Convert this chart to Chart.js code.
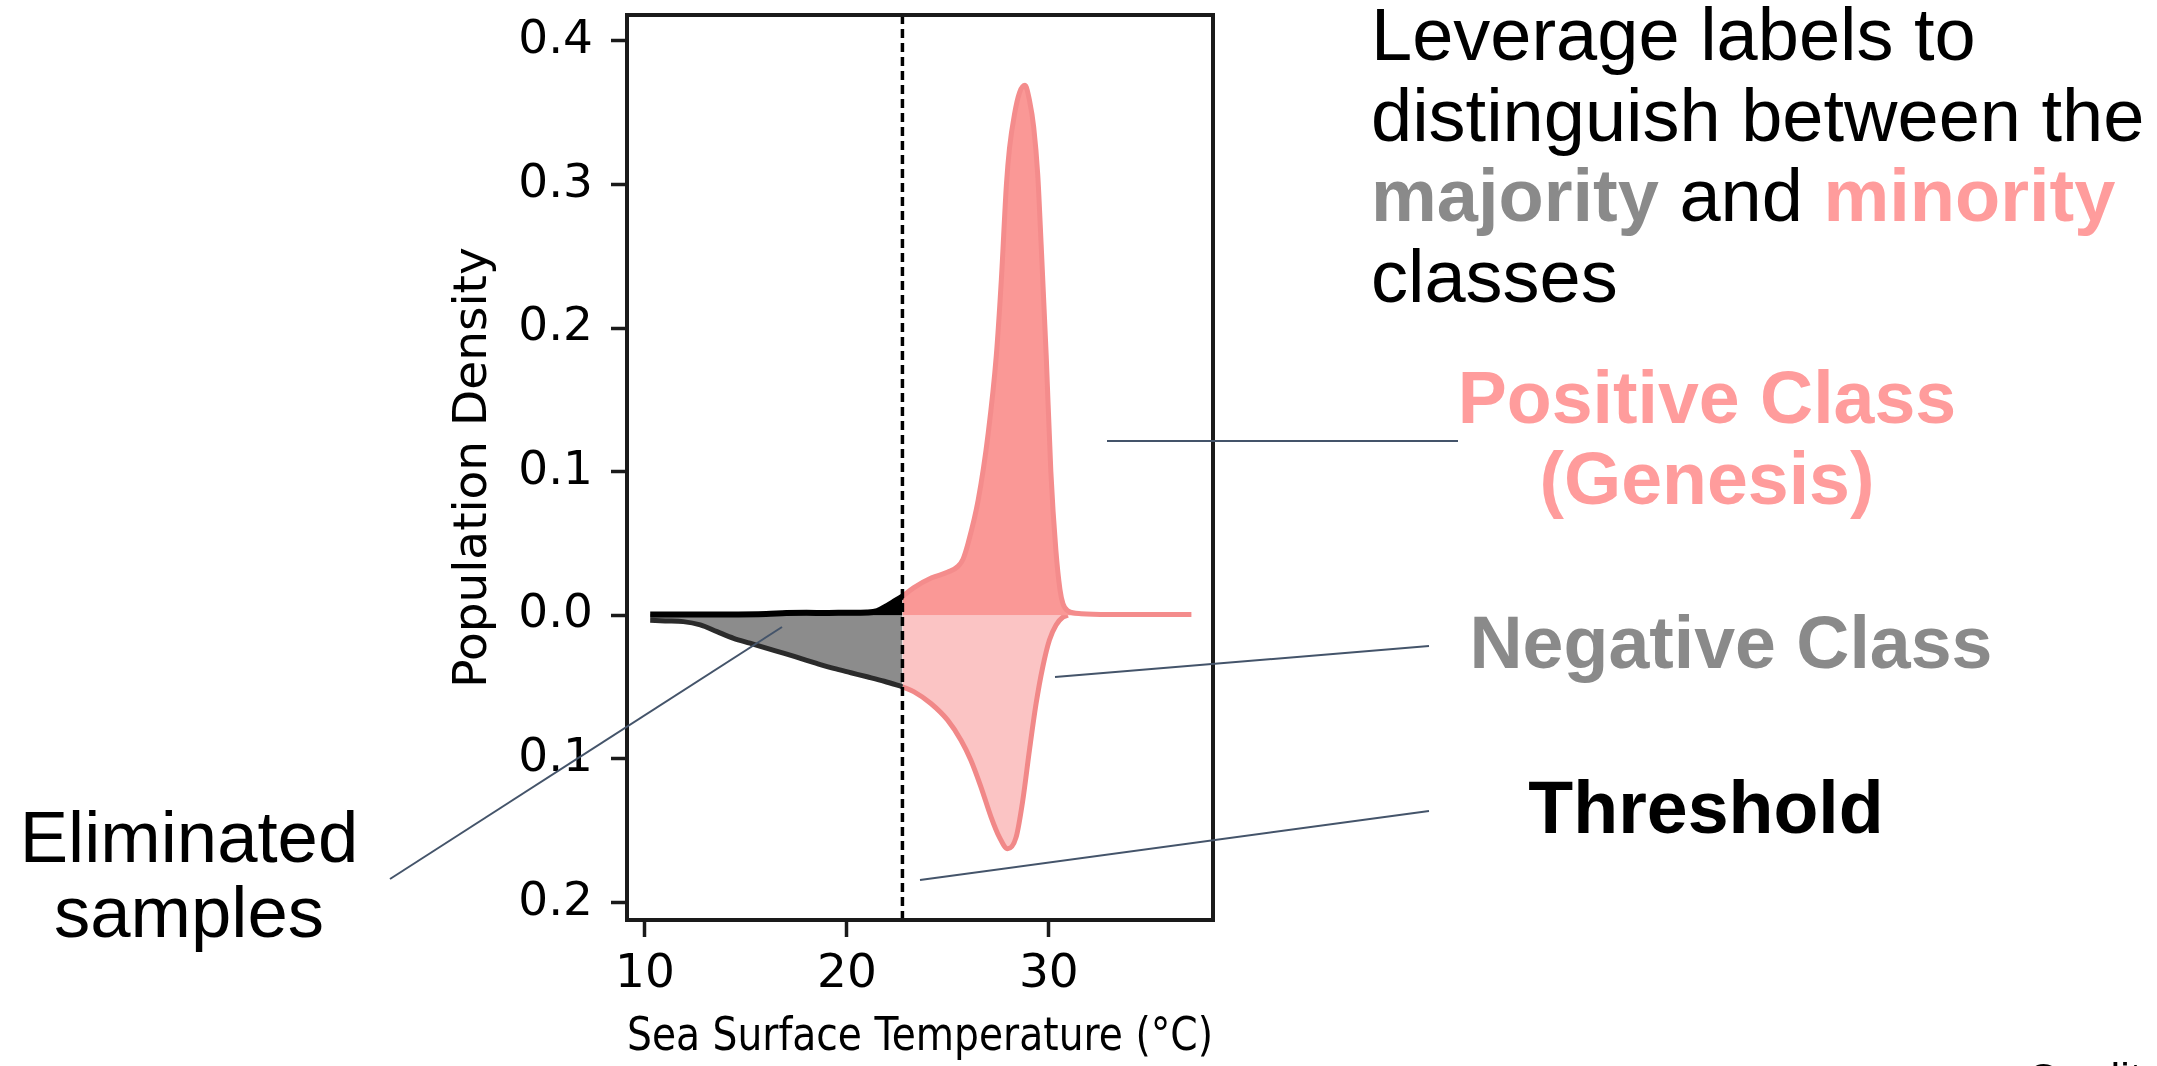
<!DOCTYPE html>
<html>
<head>
<meta charset="utf-8">
<title>Population density vs SST</title>
<script src="https://cdn.jsdelivr.net/npm/chart.js@4.4.1/dist/chart.umd.min.js"></script>
<style>
    html, body { margin: 0; padding: 0; background: #fff; overflow: hidden; }
    #wrap { position: absolute; left: 0; top: 0; width: 2157px; height: 1066px; }
    #leaders { position: absolute; left: 0; top: 0; pointer-events: none; }
    .note { position: absolute; font-family: "Liberation Sans", Arial, sans-serif; white-space: nowrap; color: #000; }
    .center { text-align: center; }
</style>
</head>
<body>
<div id="wrap"><canvas id="densityChart"></canvas></div>

<svg id="leaders" width="2157" height="1066">
    <g stroke="#44546a" stroke-width="2">
        <line x1="1107" y1="441" x2="1458" y2="441"/>
        <line x1="1055" y1="677" x2="1429" y2="646"/>
        <line x1="920" y1="880" x2="1429" y2="811"/>
        <line x1="390" y1="879" x2="782" y2="627"/>
    </g>
</svg>

<div class="note" style="left:1371px; top:-5px; font-size:74px; line-height:80.5px;">Leverage labels to<br>distinguish between the<br><b style="color:#8a8a8a">majority</b> and <b style="color:#ff9c9c">minority</b><br>classes</div>
<div class="note center" style="left:1407px; width:600px; top:357px; font-size:73.5px; line-height:81px; font-weight:bold; color:#ff9c9c;">Positive Class<br>(Genesis)</div>
<div class="note center" style="left:1431px; width:600px; top:603px; font-size:73.5px; line-height:80.6px; font-weight:bold; color:#8a8a8a;">Negative Class</div>
<div class="note center" style="left:1406px; width:600px; top:768px; font-size:73.5px; line-height:80.6px; font-weight:bold;">Threshold</div>
<div class="note center" style="left:-11px; width:400px; top:799px; font-size:72.5px; line-height:75px;">Eliminated<br>samples</div>
<div class="note" style="left:2027px; top:1057px; font-size:43px; line-height:43px;">Credit</div>

<script>
// SST cut-off used to drop samples
const threshold = 22.75;

// positive class (genesis), kept part
const posKeptX = [22.75, 23.3, 24.2, 25.0, 25.5, 25.75, 26.0, 26.5, 27.0, 27.4, 27.65, 27.9, 28.05, 28.3, 28.55, 28.82, 29.05, 29.25, 29.45, 29.62, 29.87, 30.1, 30.35, 30.55, 30.7, 30.95, 31.6, 33.0, 35.0, 37.06];
const posKeptY = [0.013, 0.019, 0.026, 0.030, 0.034, 0.039, 0.050, 0.080, 0.127, 0.181, 0.234, 0.300, 0.325, 0.349, 0.364, 0.369, 0.358, 0.340, 0.307, 0.258, 0.181, 0.100, 0.045, 0.018, 0.008, 0.003, 0.001, 0.0005, 0.0005, 0.0005];

// positive class below the threshold
const posCutX = [10.26, 12.0, 14.0, 16.0, 17.0, 18.0, 19.0, 20.0, 21.0, 21.5, 22.0, 22.4, 22.75];
const posCutY = [0.0005, 0.0005, 0.0005, 0.0008, 0.0015, 0.0017, 0.0015, 0.0017, 0.0019, 0.0028, 0.0065, 0.010, 0.013];

// negative class, plotted downwards
const negCutX = [10.26, 11.0, 11.9, 12.74, 13.57, 14.39, 15.2, 16.05, 16.9, 17.7, 18.5, 19.35, 20.2, 21.0, 21.85, 22.75];
const negCutY = [-0.0035, -0.004, -0.0045, -0.0068, -0.0115, -0.0161, -0.0195, -0.0231, -0.0266, -0.0301, -0.0336, -0.0371, -0.0401, -0.0429, -0.046, -0.0499];

const negKeptX = [22.75, 23.33, 24.16, 24.99, 25.65, 26.14, 26.64, 27.14, 27.55, 27.96, 28.38, 28.71, 29.04, 29.37, 29.7, 30.03, 30.36, 30.69, 30.94];
const negKeptY = [-0.0499, -0.0534, -0.0615, -0.0731, -0.0871, -0.101, -0.1197, -0.1406, -0.1546, -0.1627, -0.1546, -0.129, -0.094, -0.0615, -0.036, -0.0173, -0.0068, -0.0015, 0];

const xTicks = [10, 20, 30];
const yTicks = [-0.2, -0.1, 0, 0.1, 0.2, 0.3, 0.4];
const yTickLabels = ['0.2', '0.1', '0.0', '0.1', '0.2', '0.3', '0.4'];
const xRange = [9.11, 38.13];
const yRange = [-0.2123, 0.418];

function points(xs, ys) {
    return xs.map((x, i) => ({x: x, y: ys[i]}));
}

const tickFont = {family: 'DejaVu Sans', size: 47};
const titleFont = {family: 'DejaVu Sans', size: 47};

const framePlugin = {
    id: 'frame',
    afterDatasetsDraw(chart) {
        const a = chart.chartArea;
        const c = chart.ctx;
        c.save();
        c.strokeStyle = '#1a1a1a';
        c.lineWidth = 4;
        c.strokeRect(a.left, a.top, a.right - a.left, a.bottom - a.top);
        c.restore();
    }
};

const ctx = document.getElementById('densityChart');

new Chart(ctx, {
    type: 'line',
    data: {
        datasets: [{
            label: 'Threshold',
            data: [{x: threshold, y: yRange[0]}, {x: threshold, y: yRange[1]}],
            borderColor: '#000',
            borderWidth: 3.5,
            borderDash: [9, 5],
            pointRadius: 0,
            tension: 0,
            fill: false
        }, {
            label: 'Positive (eliminated)',
            data: points(posCutX, posCutY),
            borderColor: '#000',
            backgroundColor: '#000',
            borderWidth: 6,
            pointRadius: 0,
            cubicInterpolationMode: 'monotone',
            fill: 'origin'
        }, {
            label: 'Negative (eliminated)',
            data: points(negCutX, negCutY),
            borderColor: '#2b2b2b',
            backgroundColor: 'rgb(140, 140, 140)',
            borderWidth: 5,
            pointRadius: 0,
            cubicInterpolationMode: 'monotone',
            fill: 'origin'
        }, {
            label: 'Positive Class (Genesis)',
            data: points(posKeptX, posKeptY),
            borderColor: 'rgb(244, 140, 140)',
            backgroundColor: 'rgb(250, 152, 150)',
            borderWidth: 5,
            pointRadius: 0,
            cubicInterpolationMode: 'monotone',
            fill: 'origin'
        }, {
            label: 'Negative Class',
            data: points(negKeptX, negKeptY),
            borderColor: 'rgb(241, 136, 136)',
            backgroundColor: 'rgb(251, 196, 196)',
            borderWidth: 5,
            pointRadius: 0,
            cubicInterpolationMode: 'monotone',
            fill: 'origin'
        }]
    },
    options: {
        responsive: true,
        maintainAspectRatio: false,
        animation: false,
        layout: {
            padding: {left: 420, top: 15, right: 944, bottom: 0}
        },
        plugins: {
            legend: {display: false},
            tooltip: {enabled: false}
        },
        scales: {
            x: {
                type: 'linear',
                min: xRange[0],
                max: xRange[1],
                afterBuildTicks: (axis) => { axis.ticks = xTicks.map(v => ({value: v})); },
                afterFit: (axis) => {
                    axis.height = 146;
                    axis.paddingLeft = 0;
                    axis.paddingRight = 0;
                },
                border: {display: false},
                grid: {drawOnChartArea: false, drawTicks: true, tickLength: 17, tickWidth: 3.5, tickColor: '#1a1a1a'},
                ticks: {font: tickFont, color: '#000', padding: 10, maxRotation: 0},
                title: {display: true, text: 'Sea Surface Temperature (°C)', font: titleFont, color: '#000', padding: 0}
            },
            y: {
                type: 'linear',
                min: yRange[0],
                max: yRange[1],
                afterBuildTicks: (axis) => { axis.ticks = yTicks.map(v => ({value: v})); },
                afterFit: (axis) => {
                    axis.width = 207;
                    axis.paddingTop = 0;
                    axis.paddingBottom = 0;
                },
                border: {display: false},
                grid: {drawOnChartArea: false, drawTicks: true, tickLength: 16, tickWidth: 3.5, tickColor: '#1a1a1a'},
                ticks: {
                    font: tickFont,
                    color: '#000',
                    padding: 18,
                    callback: function (value, index) {
                        return yTickLabels[index];
                    }
                },
                title: {display: true, text: 'Population Density', font: titleFont, color: '#000', padding: {top: 26, bottom: 0}}
            }
        }
    },
    plugins: [framePlugin]
});
</script>
</body>
</html>
